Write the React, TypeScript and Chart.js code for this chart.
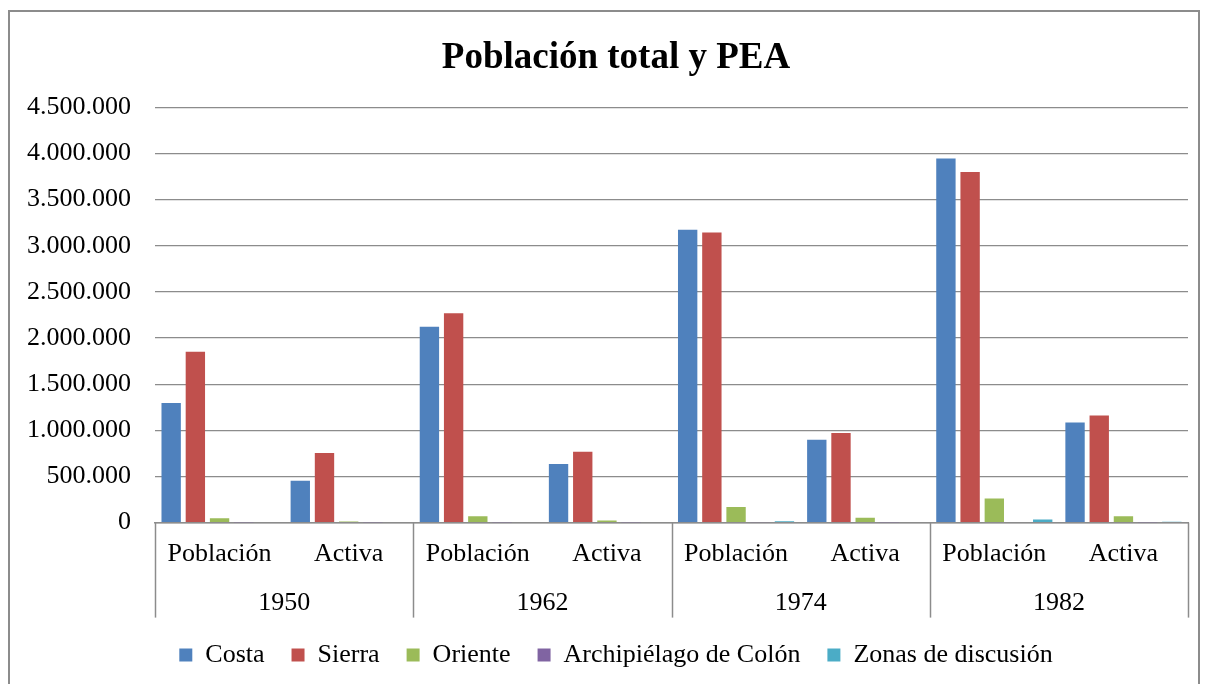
import React, { useEffect, useRef } from "react";
import { Chart, registerables } from "chart.js";

Chart.register(...registerables);

const categories = ["Población", "Activa", "Población", "Activa", "Población", "Activa", "Población", "Activa"];
const years = ["1950", "1962", "1974", "1982"];

const costa = [1295000, 454000, 2124000, 635000, 3173000, 898000, 3945000, 1085000];
const sierra = [1853000, 754000, 2268000, 768000, 3144000, 970000, 3800000, 1161000];
const oriente = [46000, 13000, 70000, 22000, 168000, 52000, 260000, 70000];
const archipielago = [1300, 500, 2400, 800, 4000, 1300, 6100, 2000];
const zonas = [0, 0, 0, 0, 14000, 0, 34000, 8000];

const seriesNames = ["Costa", "Sierra", "Oriente", "Archipiélago de Colón", "Zonas de discusión"];
const seriesColors = ["#4F81BD", "#C0504D", "#9BBB59", "#8064A2", "#4BACC6"];

const yMax = 4500000;
const yStep = 500000;

const FONT = "'Liberation Serif', 'Times New Roman', serif";
const GRID = "#8c8c8c";

const separatorPlugin = {
  id: "groupSeparators",
  afterDraw(chart: any) {
    const x = chart.scales.x;
    const { ctx, chartArea } = chart;
    const n = categories.length;
    const xs: number[] = [chartArea.left];
    for (let i = 2; i < n; i += 2) {
      xs.push((x.getPixelForValue(i - 1) + x.getPixelForValue(i)) / 2);
    }
    xs.push(chartArea.right);
    ctx.save();
    ctx.strokeStyle = GRID;
    ctx.lineWidth = 1.5;
    const bottom = chartArea.bottom + 95;
    xs.forEach((px) => {
      const p = Math.round(px) + 0.5;
      ctx.beginPath();
      ctx.moveTo(p, chartArea.bottom);
      ctx.lineTo(p, bottom);
      ctx.stroke();
    });
    ctx.restore();
  },
};

export default function App() {
  const canvasRef = useRef<HTMLCanvasElement | null>(null);

  useEffect(() => {
    if (!canvasRef.current) return;
    const datasets = [costa, sierra, oriente, archipielago, zonas].map((d, i) => ({
      label: seriesNames[i],
      data: d,
      backgroundColor: seriesColors[i],
      borderWidth: 0,
      categoryPercentage: 0.937,
      barPercentage: 0.8,
      xAxisID: "x",
      yAxisID: "y",
    }));
    const chart = new Chart(canvasRef.current, {
      type: "bar",
      data: { labels: categories, datasets },
      plugins: [separatorPlugin],
      options: {
        animation: false,
        responsive: true,
        maintainAspectRatio: false,
        layout: { padding: { left: 16, right: 0, top: 0, bottom: 6 } },
        plugins: {
          title: {
            display: true,
            text: "Población total y PEA",
            color: "#000",
            font: { family: FONT, size: 37, weight: "bold" },
            padding: { top: 24, bottom: 27 },
          },
          legend: {
            position: "bottom",
            labels: {
              color: "#000",
              font: { family: FONT, size: 26 },
              boxWidth: 13,
              boxHeight: 13,
              padding: 27,
            },
          },
          tooltip: { enabled: false },
        },
        scales: {
          x: {
            type: "category",
            position: "bottom",
            offset: true,
            grid: { display: false, drawTicks: false },
            border: { display: true, color: GRID, width: 1.5 },
            ticks: {
              color: "#000",
              font: { family: FONT, size: 26 },
              padding: 16,
              maxRotation: 0,
              autoSkip: false,
            },
          },
          x2: {
            type: "category",
            position: "bottom",
            labels: years,
            offset: true,
            grid: { display: false, drawTicks: false },
            border: { display: false },
            afterFit: (s: any) => {
              s.height = s.height - 6;
            },
            ticks: {
              color: "#000",
              font: { family: FONT, size: 26 },
              padding: 2,
              maxRotation: 0,
              autoSkip: false,
            },
          },
          y: {
            position: "left",
            min: 0,
            max: yMax,
            afterFit: (s: any) => {
              s.width = 129;
            },
            grid: { color: GRID, lineWidth: 1.3, drawTicks: false },
            border: { display: false },
            ticks: {
              stepSize: yStep,
              color: "#000",
              font: { family: FONT, size: 26 },
              padding: 24,
              callback: (v: any) => String(Math.round(Number(v))).replace(/\B(?=(\d{3})+(?!\d))/g, "."),
            },
          },
          yRight: {
            position: "right",
            display: true,
            min: 0,
            max: 1,
            afterFit: (s: any) => {
              s.width = 18;
            },
            grid: { display: false, drawTicks: false },
            border: { display: false },
            ticks: { display: false },
          },
        },
      } as any,
    });
    return () => chart.destroy();
  }, []);

  return (
    <div
      style={{
        position: "fixed",
        left: 8,
        top: 10,
        width: 1192,
        height: 674,
        boxSizing: "border-box",
        borderTop: "2px solid #8c8c8c",
        borderLeft: "2px solid #8c8c8c",
        borderRight: "2px solid #8c8c8c",
        background: "#fff",
        overflow: "hidden",
      }}
    >
      <div style={{ position: "absolute", left: 0, top: 0, width: 1196, height: 672 }}>
        <canvas ref={canvasRef} />
      </div>
    </div>
  );
}
